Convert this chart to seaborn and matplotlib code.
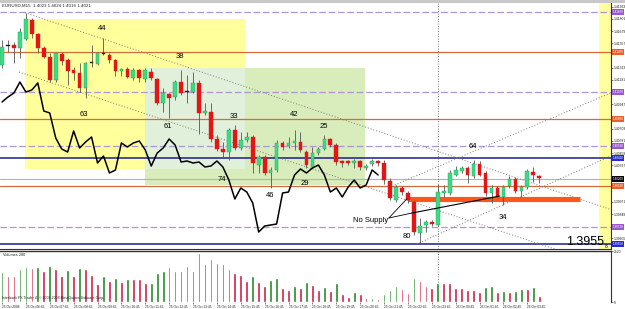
import numpy as np
import pandas as pd
import matplotlib
matplotlib.use("Agg")
import matplotlib.pyplot as plt
import matplotlib.transforms as mtrans
from matplotlib.patches import Rectangle
import seaborn as sns

# ---------------- data (EURUSD M15 candles) ----------------
opens = [1.4134, 1.4153, 1.4154, 1.4151, 1.4160, 1.4179, 1.4165, 1.4151, 1.4142, 1.4119,
         1.4145, 1.4139, 1.4129, 1.4126, 1.4111, 1.4137, 1.4135, 1.4146, 1.4144, 1.4139,
         1.4128, 1.4130, 1.4121, 1.4129, 1.4120, 1.4127, 1.4120, 1.4096, 1.4105, 1.4102,
         1.4117, 1.4108, 1.4107, 1.4116, 1.4086, 1.4087, 1.4060, 1.4050, 1.4047, 1.4069,
         1.4051, 1.4059, 1.4062, 1.4034, 1.4042, 1.4026, 1.4029, 1.4056, 1.4053, 1.4056,
         1.4057, 1.4047, 1.4032, 1.4046, 1.4050, 1.4060, 1.4054, 1.4038, 1.4038, 1.4036,
         1.4038, 1.4031, 1.4035, 1.4038, 1.4036, 1.4018, 1.3999, 1.4011, 1.4006, 1.3997,
         1.3966, 1.3974, 1.3977, 1.3974, 1.4006, 1.4006, 1.4024, 1.4028, 1.4031, 1.4023,
         1.4035, 1.4026, 1.4006, 1.4011, 1.4002, 1.4013, 1.4020, 1.4008, 1.4012, 1.4027,
         1.4023]
highs = [1.4159, 1.4159, 1.4157, 1.4171, 1.4186, 1.4181, 1.4166, 1.4153, 1.4146, 1.4147,
         1.4147, 1.4141, 1.4132, 1.4136, 1.4137, 1.4154, 1.4147, 1.4161, 1.4146, 1.4140,
         1.4131, 1.4132, 1.4131, 1.4130, 1.4131, 1.4131, 1.4121, 1.4111, 1.4106, 1.4119,
         1.4129, 1.4124, 1.4127, 1.4119, 1.4096, 1.4096, 1.4064, 1.4057, 1.4071, 1.4074,
         1.4067, 1.4067, 1.4064, 1.4044, 1.4044, 1.4032, 1.4059, 1.4058, 1.4062, 1.4069,
         1.4067, 1.4049, 1.4052, 1.4052, 1.4064, 1.4061, 1.4056, 1.4039, 1.4039, 1.4040,
         1.4039, 1.4035, 1.4040, 1.4039, 1.4039, 1.4021, 1.4014, 1.4013, 1.4008, 1.3999,
         1.3981, 1.3979, 1.3979, 1.4015, 1.4014, 1.4029, 1.4033, 1.4033, 1.4033, 1.4039,
         1.4038, 1.4028, 1.4014, 1.4013, 1.4014, 1.4023, 1.4022, 1.4014, 1.4030, 1.4032,
         1.4024]
lows = [1.4131, 1.4147, 1.4136, 1.4141, 1.4159, 1.4161, 1.4146, 1.4141, 1.4117, 1.4117,
        1.4134, 1.4114, 1.4119, 1.4107, 1.4101, 1.4132, 1.4134, 1.4144, 1.4136, 1.4123,
        1.4123, 1.4121, 1.4119, 1.4117, 1.4117, 1.4119, 1.4094, 1.4087, 1.4081, 1.4099,
        1.4104, 1.4096, 1.4106, 1.4065, 1.4084, 1.4057, 1.4048, 1.4041, 1.4039, 1.4049,
        1.4049, 1.4057, 1.4026, 1.4026, 1.4024, 1.4011, 1.4027, 1.4049, 1.4051, 1.4049,
        1.4047, 1.4031, 1.4031, 1.4044, 1.4049, 1.4052, 1.4034, 1.4032, 1.4034, 1.4031,
        1.4029, 1.4029, 1.4033, 1.4033, 1.4015, 1.3999, 1.3997, 1.4004, 1.3996, 1.3964,
        1.3956, 1.3967, 1.3973, 1.3973, 1.4002, 1.4004, 1.4023, 1.4026, 1.4016, 1.4021,
        1.4023, 1.4003, 1.3996, 1.4001, 1.3994, 1.4011, 1.4006, 1.4002, 1.4010, 1.4017,
        1.4016]
closes = [1.4152, 1.4154, 1.4151, 1.4167, 1.4180, 1.4165, 1.4151, 1.4142, 1.4119, 1.4146,
          1.4138, 1.4128, 1.4126, 1.4111, 1.4136, 1.4136, 1.4146, 1.4145, 1.4139, 1.4128,
          1.4130, 1.4122, 1.4129, 1.4121, 1.4129, 1.4121, 1.4096, 1.4106, 1.4101, 1.4117,
          1.4106, 1.4107, 1.4116, 1.4086, 1.4088, 1.4060, 1.4050, 1.4047, 1.4069, 1.4051,
          1.4059, 1.4062, 1.4036, 1.4042, 1.4026, 1.4029, 1.4056, 1.4052, 1.4056, 1.4058,
          1.4049, 1.4034, 1.4046, 1.4050, 1.4060, 1.4054, 1.4037, 1.4036, 1.4036, 1.4038,
          1.4032, 1.4033, 1.4038, 1.4036, 1.4019, 1.4001, 1.4012, 1.4007, 1.3999, 1.3967,
          1.3973, 1.3977, 1.3975, 1.4007, 1.4008, 1.4026, 1.4029, 1.4031, 1.4024, 1.4035,
          1.4024, 1.4006, 1.4011, 1.4002, 1.4012, 1.4020, 1.4008, 1.4012, 1.4028, 1.4024,
          1.4021]
volumes = [1485, 1287, 1287, 1650, 1749, 1683, 1733, 1535, 1782, 1650,
           1287, 1568, 1287, 1667, 1650, 1337, 875, 1287, 1040, 1172,
           990, 1122, 1122, 1122, 924, 940, 1436, 1518, 1733, 1518,
           1518, 1782, 1518, 2442, 1865, 2145, 1914, 1865, 1617, 1436,
           1320, 1040, 1287, 990, 776, 1073, 1172, 710, 594, 776,
           710, 990, 825, 578, 759, 528, 957, 380, 264, 479,
           380, 182, 215, 132, 413, 578, 776, 644, 446, 1172,
           1023, 776, 710, 957, 957, 957, 710, 710, 594, 578,
           495, 743, 809, 495, 528, 495, 545, 660, 660, 759,
           280]
# black overlay line (one value per bar, first 64 bars)
overlay = [1.4097, 1.4102, 1.4106, 1.4117, 1.4107, 1.4109, 1.4116, 1.4088, 1.4086, 1.4061,
           1.4050, 1.4047, 1.4068, 1.4051, 1.4057, 1.4062, 1.4036, 1.4043, 1.4026, 1.4029,
           1.4056, 1.4052, 1.4056, 1.4058, 1.4049, 1.4033, 1.4046, 1.4051, 1.4060, 1.4054,
           1.4037, 1.4038, 1.4036, 1.4037, 1.4032, 1.4033, 1.4038, 1.4032, 1.4019, 1.4000,
           1.4011, 1.4007, 1.3996, 1.3967, 1.3973, 1.3974, 1.3975, 1.4006, 1.4007, 1.4024,
           1.4030, 1.4026, 1.4031, 1.4034, 1.4024, 1.4007, 1.4011, 1.4002, 1.4012, 1.4019,
           1.4011, 1.4014, 1.4029, 1.4024]
time_labels = ["25 Oct 2008", "25 Oct 06:45", "25 Oct 07:45", "25 Oct 08:45", "25 Oct 09:45",
               "25 Oct 10:45", "25 Oct 11:45", "25 Oct 12:45", "25 Oct 13:45", "25 Oct 14:45",
               "25 Oct 15:45", "25 Oct 16:45", "25 Oct 17:45", "25 Oct 18:45", "25 Oct 19:45",
               "25 Oct 20:45", "25 Oct 21:45", "25 Oct 22:45", "25 Oct 23:45", "26 Oct 00:45",
               "26 Oct 01:45", "26 Oct 02:45", "26 Oct 03:45"]
price_ticks = [1.41923, 1.41801, 1.41679, 1.41557, 1.41435, 1.41313, 1.41191, 1.41069,
               1.40947, 1.40825, 1.40703, 1.40581, 1.40459, 1.40337, 1.40215, 1.40093,
               1.39971, 1.39849, 1.39727, 1.39605]
purple_levels = [1.4187, 1.4107, 1.4053, 1.3972]
orange_levels = [1.4147, 1.4080, 1.4013]
navy_levels = [1.4041, 1.3955]
bid_level = 1.4020
zone_level = 1.39995
wave_labels = ["44", "38", "63", "61", "33", "42", "25", "74", "46", "29", "64", "34", "80"]
wave_label_pos = [(16.75, 1.41705), (29.8, 1.41425), (13.7, 1.4084), (27.8, 1.40725),
                  (38.9, 1.4082), (48.9, 1.4084), (53.9, 1.4072), (36.85, 1.40195),
                  (44.9, 1.40035), (50.75, 1.40155), (78.9, 1.40525), (83.9, 1.39815),
                  (67.8, 1.3962)]

# ---------------- style ----------------
sns.set_theme(style="white")
plt.rcParams['font.family'] = ['Liberation Sans', 'DejaVu Sans']

n = len(opens)
idx = np.arange(n)
df = pd.DataFrame(dict(i=idx, open=opens, high=highs, low=lows, close=closes, volume=volumes))

YEL = '#ffff9c'
GRN = '#d9ecbb'
OVL = '#e1f0da'
CANDLE_UP = '#3ddc84'
CANDLE_DN = '#e41515'

fig = plt.figure(figsize=(6.25, 3.09), dpi=100, facecolor='white')
ax = fig.add_axes([0.0, 0.19256, 0.9768, 0.79773])
axv = fig.add_axes([0.0, 0.02265, 0.9768, 0.16667], sharex=ax)

x0, x1 = -0.335, 101.93
y0, y1 = 1.39495, 1.4196
ax.set_xlim(x0, x1)
ax.set_ylim(y0, y1)

# rectangles
ax.add_patch(Rectangle((3.85, 1.4030), 40.7 - 3.85, 1.4180 - 1.4030, facecolor=YEL, edgecolor='none', zorder=0))
ax.add_patch(Rectangle((23.95, 1.4014), 60.8 - 23.95, 1.4131 - 1.4014, facecolor=GRN, edgecolor='none', zorder=0.1))
ax.add_patch(Rectangle((23.95, 1.4030), 40.7 - 23.95, 1.4131 - 1.4030, facecolor=OVL, edgecolor='none', zorder=0.2))
ax.add_patch(Rectangle((100.0, y0), x1 - 100.0, y1 - y0, facecolor=YEL, edgecolor='none', zorder=0))

# horizontal levels
for lv in purple_levels:
    ax.axhline(lv, color='#b094d4', lw=0.9, ls=(0, (5.3, 2.2)), zorder=1)
for lv in orange_levels:
    ax.axhline(lv, color='#d46a40', lw=0.9, zorder=1)
for lv in navy_levels:
    ax.axhline(lv, color='#1c1c8a', lw=1.1, zorder=1)
ax.axhline(bid_level, color='#aab4c6', lw=0.8, zorder=1)
ax.hlines(zone_level, 68.0, 96.8, color='#ff561e', lw=3.7, zorder=2)

# dotted trend lines
dot = dict(color='#7a7a7a', lw=0.7, ls=(0, (1, 2)), zorder=1.5)
ax.plot([3.85, 101.93], [1.41863, 1.39896], **dot)
ax.plot([2.85, 92.6], [1.4127, 1.3950], **dot)
ax.plot([65.8, 101.93], [1.4014, 1.4106], **dot)
ax.plot([69.5, 101.93], [1.3955, 1.4043], **dot)
ax.axvline(73, color='#555555', lw=0.6, ls=(0, (1, 2)), zorder=1.5)
axv.axvline(73, color='#555555', lw=0.6, ls=(0, (1, 2)), zorder=1.5)

# candles
o = df['open'].values; c = df['close'].values
body_lo = np.minimum(o, c)
body_h = np.maximum(np.abs(c - o), 0.00012)
doji = np.abs(c - o) <= 0.00011
cols = np.where(doji, '#202020', np.where(c > o, CANDLE_UP, CANDLE_DN))
edges = np.where(doji, '#202020', np.where(c > o, '#2a9a5c', CANDLE_DN))
ax.vlines(idx, df['low'], df['high'], color='#555555', lw=0.6, zorder=3)
ax.bar(idx, body_h, bottom=body_lo, width=0.62, color=cols, edgecolor=edges, linewidth=0.3, zorder=4)

# black overlay line
sns.lineplot(x=idx[:len(overlay)], y=overlay, ax=ax, color='black', lw=1.1, zorder=5)

# No Supply annotation lines
ax.plot([64.8, 67.8], [1.3981, 1.4000], color='black', lw=0.6, zorder=5)
ax.plot([64.8, 68.7], [1.3981, 1.3986], color='black', lw=0.6, zorder=5)
ax.plot([68.7, 83.4], [1.3986, 1.4003], color='black', lw=0.8, zorder=5)

# labels
for s, (xi, yi) in zip(wave_labels, wave_label_pos):
    ax.text(xi, yi, s, ha='center', va='center', fontsize=5.5, color='black', zorder=6)
ax.text(61.8, 1.3978, "No Supply", ha='center', va='center', fontsize=5.5, color='black', zorder=6)
ax.text(100.8, 1.39565, "1.3955", ha='right', va='center', fontsize=9, color='black', zorder=6)
ax.text(101.2, 1.3952, "8", ha='center', va='center', fontsize=3.5, color='black', zorder=6)

# price tags on axis (levels of the drawn lines)
tags = [(lv, '#9b59d0') for lv in purple_levels] + [(lv, '#e8602c') for lv in orange_levels] + \
       [(lv, '#2a2ad0') for lv in navy_levels] + [(bid_level, '#000000')]
tag_levels = np.array([t[0] for t in tags])

# right axis ticks, skipping those hidden behind a tag
shown_ticks = [t for t in price_ticks if np.min(np.abs(tag_levels - t)) > 0.00045]
ax.yaxis.tick_right()
ax.set_yticks(shown_ticks)
ax.set_yticklabels([f"{t:.5f}" for t in shown_ticks])
ax.tick_params(axis='y', right=True, length=1.5, width=0.4, labelsize=2.4, pad=1, colors='#222222')
ax.tick_params(axis='x', bottom=False, labelbottom=False)
for side in ['left', 'top']:
    ax.spines[side].set_visible(False)
for side in ['right', 'bottom']:
    ax.spines[side].set_color('#333333')
    ax.spines[side].set_linewidth(0.8)
ax.set_xlabel(''); ax.set_ylabel('')

btrans = mtrans.blended_transform_factory(ax.transAxes, ax.transData)
for lv, colr in tags:
    ax.text(1.003, lv, f"{lv:.5f}", transform=btrans, ha='left', va='center', fontsize=2.2,
            color='white', clip_on=False, zorder=7,
            bbox=dict(boxstyle='square,pad=0.25', facecolor=colr, edgecolor='none'))

# title
fig.text(2 / 625, 1 - 5.5 / 309, "EURUSD,M15  1.4023 1.4024 1.4016 1.4021", fontsize=3.2,
         color='#222222', ha='left', va='center')
fig.patches.append(Rectangle((0, 1 - 2.6 / 309), 1, 2.6 / 309, transform=fig.transFigure,
                             facecolor='#c8c8c8', edgecolor='none'))

# volume panel
v = df['volume'].values
vcols = ['#238a23' if (k == 0 or v[k] > v[k - 1]) else '#cc1f44' for k in range(n)]
axv.bar(idx, v, width=0.45, color=vcols, zorder=3)
axv.set_ylim(0, 2550)
axv.set_xlim(x0, x1)
axv.yaxis.tick_right()
axv.set_yticks([0, 2520])
axv.set_yticklabels(["0", "2520"])
axv.tick_params(axis='y', right=True, length=1.5, width=0.4, labelsize=2.4, pad=1, colors='#222222')
axv.set_xticks(idx[::4])
axv.set_xticklabels(time_labels, ha='left')
axv.tick_params(axis='x', bottom=True, length=1.5, width=0.4, labelsize=2.3, pad=0.5, colors='#222222')
axv.spines['left'].set_visible(False)
axv.spines['bottom'].set_visible(False)
axv.spines['top'].set_color('#333333'); axv.spines['top'].set_linewidth(1.0)
axv.spines['right'].set_color('#333333'); axv.spines['right'].set_linewidth(0.8)
axv.set_xlabel(''); axv.set_ylabel('')
axv.text(0.005, 0.92, "Volumes 280", transform=axv.transAxes, fontsize=2.8, ha='left', va='center', color='#222222')
axv.text(0.004, 0.07, "Interbank FX Trader 4, \u00a9 2001-2008 MetaQuotes Software Corp.",
         transform=axv.transAxes, fontsize=2.5, ha='left', va='center', color='#222222')

fig.savefig('out.png', dpi=100, facecolor='white')
